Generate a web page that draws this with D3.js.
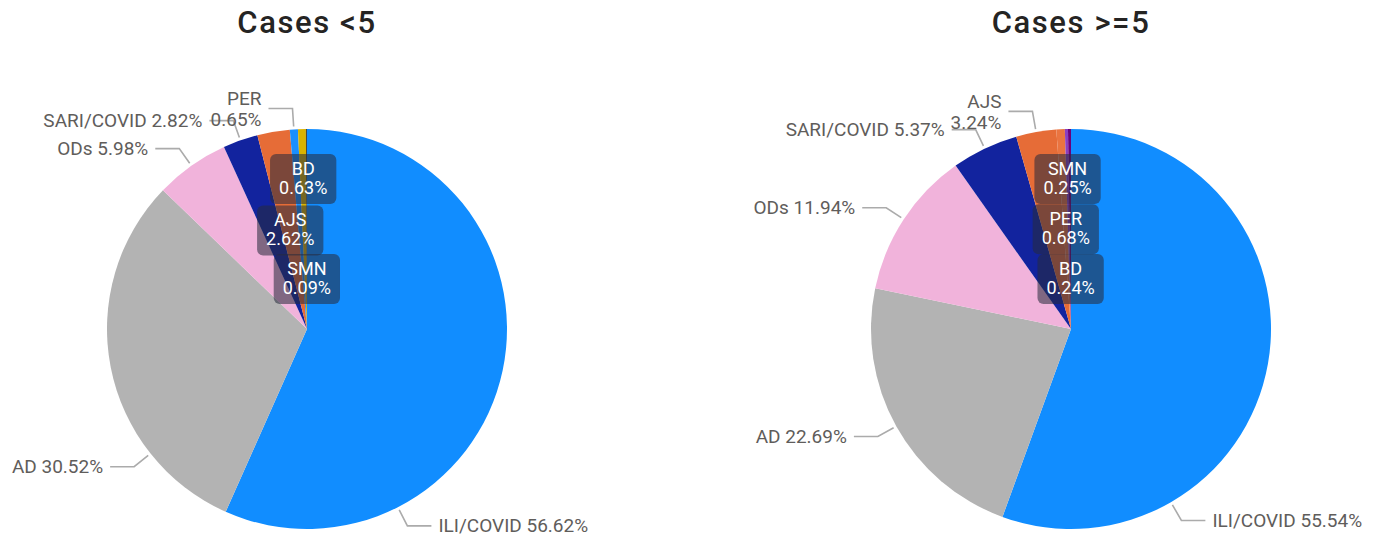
<!DOCTYPE html>
<html>
<head>
<meta charset="utf-8">
<script src="https://cdn.jsdelivr.net/npm/d3@7"></script>
<style>
  body { margin: 0; background: #fff; }
  svg { display: block; font-family: Roboto, "Open Sans", sans-serif; }
</style>
</head>
<body>
<svg></svg>
<script>
// data
let titles = ['Cases <5', 'Cases >=5'];
let categoriesLeft = ['ILI/COVID', 'AD', 'ODs', 'SARI/COVID', 'AJS', 'PER', 'BD', 'SMN'];
let valuesLeft = [56.62, 30.52, 5.98, 2.82, 2.62, 0.65, 0.63, 0.09];
let categoriesRight = ['ILI/COVID', 'AD', 'ODs', 'SARI/COVID', 'AJS', 'PER', 'SMN', 'BD'];
let valuesRight = [55.54, 22.69, 11.94, 5.37, 3.24, 0.68, 0.25, 0.24];

// styles
let colorsLeft = {
    'ILI/COVID': '#118DFF', 'AD': '#B3B3B3', 'ODs': '#F1B3DB', 'SARI/COVID': '#12239E',
    'AJS': '#E66C37', 'PER': '#1A8FFF', 'BD': '#D9B300', 'SMN': '#4A4A3A'
};
let colorsRight = {
    'ILI/COVID': '#118DFF', 'AD': '#B3B3B3', 'ODs': '#F1B3DB', 'SARI/COVID': '#12239E',
    'AJS': '#E66C37', 'PER': '#EA7440', 'SMN': '#8A3FC0', 'BD': '#6B007B'
};

let width = 1376, height = 542, radius = 200;
let svg = d3.select('svg').attr('width', width).attr('height', height);

// label layout: where the leader starts (fraction of the slice), wrapping, and
// which slices get the stacked inside labels (fraction of the radius)
let layouts = [
    {
        cx: 307, cy: 329,
        outside: { 'ILI/COVID': { f: 0.75 }, 'AD': { f: 0.25 }, 'ODs': {}, 'SARI/COVID': {}, 'PER': { wrap: true } },
        inside: { 'BD': 0.75, 'AJS': 0.5, 'SMN': 0.25 }
    },
    {
        cx: 1071, cy: 329,
        outside: { 'ILI/COVID': { f: 0.75 }, 'AD': {}, 'ODs': {}, 'SARI/COVID': {}, 'AJS': { wrap: true } },
        inside: { 'SMN': 0.75, 'PER': 0.5, 'BD': 0.25 }
    }
];

let fmt = (v) => v.toFixed(2) + '%';

let drawPie = (cats, vals, colors, title, lay) => {
    let items = cats.map((c, i) => ({ cat: c, val: vals[i] }));
    let pie = d3.pie().value((d) => d.val).sort((a, b) => b.val - a.val);
    let arcs = pie(items);
    let arc = d3.arc().innerRadius(0).outerRadius(radius);

    let g = svg.append('g').attr('transform', `translate(${lay.cx}, ${lay.cy})`);

    g.selectAll('path')
        .data(arcs)
        .enter()
        .append('path')
        .attr('d', arc)
        .attr('fill', (d) => colors[d.data.cat]);

    svg.append('text')
        .attr('x', lay.cx)
        .attr('y', 33)
        .attr('text-anchor', 'middle')
        .attr('font-size', 31)
        .attr('font-weight', 500)
        .attr('letter-spacing', 1.6)
        .attr('fill', '#252423')
        .text(title);

    // outside labels with leader lines
    arcs.forEach((d) => {
        let o = lay.outside[d.data.cat];
        if (!o) return;
        let f = o.f === undefined ? 0.5 : o.f;
        let a = d.startAngle + (d.endAngle - d.startAngle) * f;
        let sx = Math.sin(a), sy = -Math.cos(a);
        let p0 = [sx * (radius + 3), sy * (radius + 3)];
        let p1 = [sx * (radius + 21), sy * (radius + 21)];
        let dir = sx >= 0 ? 1 : -1;
        let p2 = [p1[0] + dir * 24, p1[1]];
        g.append('polyline')
            .attr('points', [p0, p1, p2].map((p) => p.join(',')).join(' '))
            .attr('fill', 'none')
            .attr('stroke', '#ABABAB')
            .attr('stroke-width', 1.6);
        let t = g.append('text')
            .attr('x', p2[0] + dir * 7)
            .attr('y', p2[1])
            .attr('text-anchor', dir > 0 ? 'start' : 'end')
            .attr('font-size', 19)
            .attr('fill', '#5F5D5B');
        if (o.wrap) {
            t.append('tspan').attr('x', p2[0] + dir * 7).attr('y', p2[1] - 10)
                .attr('dominant-baseline', 'central').text(d.data.cat);
            t.append('tspan').attr('x', p2[0] + dir * 7).attr('y', p2[1] + 11)
                .attr('dominant-baseline', 'central').text(fmt(d.data.val));
        } else {
            t.attr('dominant-baseline', 'central').text(d.data.cat + ' ' + fmt(d.data.val));
        }
    });

    // inside stacked labels
    arcs.forEach((d) => {
        let k = lay.inside[d.data.cat];
        if (k === undefined) return;
        let a = (d.startAngle + d.endAngle) / 2;
        let x = Math.sin(a) * radius * k, y = -Math.cos(a) * radius * k;
        let lg = g.append('g').attr('transform', `translate(${x}, ${y})`);
        let rect = lg.append('rect');
        let t1 = lg.append('text').attr('y', -11).attr('text-anchor', 'middle')
            .attr('dominant-baseline', 'central').attr('font-size', 18).attr('fill', '#fff')
            .text(d.data.cat);
        let t2 = lg.append('text').attr('y', 8).attr('text-anchor', 'middle')
            .attr('dominant-baseline', 'central').attr('font-size', 18).attr('fill', '#fff')
            .text(fmt(d.data.val));
        let w = Math.max(t1.node().getBBox().width, t2.node().getBBox().width) + 18;
        rect.attr('x', -w / 2).attr('y', -25).attr('width', w).attr('height', 50)
            .attr('rx', 6).attr('fill', 'rgba(40, 42, 60, 0.56)');
    });
};

drawPie(categoriesLeft, valuesLeft, colorsLeft, titles[0], layouts[0]);
drawPie(categoriesRight, valuesRight, colorsRight, titles[1], layouts[1]);
</script>
</body>
</html>
